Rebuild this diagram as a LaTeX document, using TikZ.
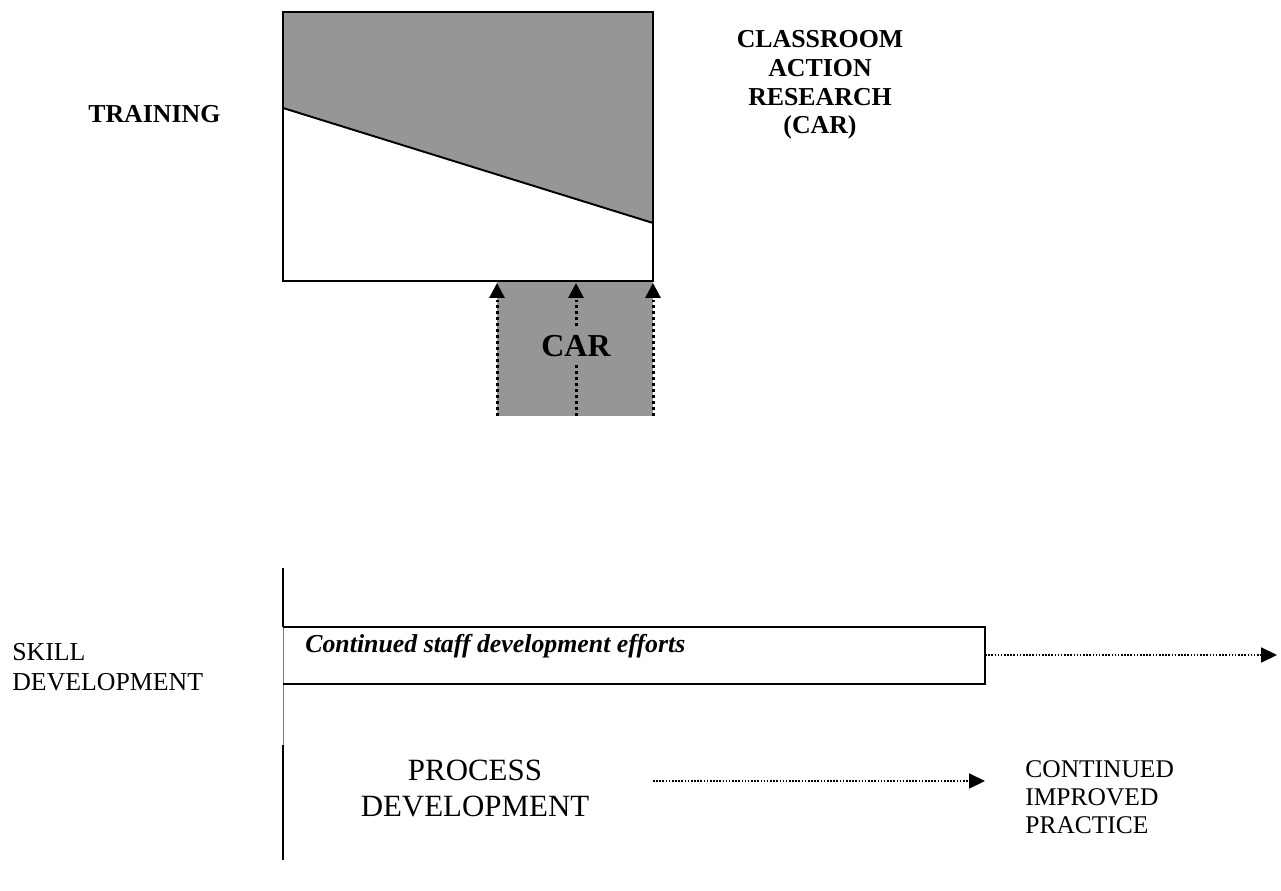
\documentclass[tikz,border=0pt]{standalone}
\usepackage{fontspec}
\setmainfont{Liberation Serif}
\usepackage{tikz}
\usetikzlibrary{arrows.meta}
\definecolor{cargray}{RGB}{150,150,150}

\begin{document}
\begin{tikzpicture}[x=0.02cm,y=-0.02cm,
  rand/.style={line width=1.1pt},
  tynd/.style={line width=0.5pt,gray},
  pil/.style={dash pattern=on 1.7pt off 1.7pt,line width=1.7pt,-{Triangle[length=8.5pt,width=8.5pt]}},
  tyndpil/.style={dash pattern=on 0.9pt off 0.9pt,line width=0.9pt,-{Triangle[length=9pt,width=8.5pt]}},
  tekst/.style={inner sep=0pt,font=\fontsize{14.5pt}{15.9pt}\selectfont},
  fedtekst/.style={inner sep=0pt,font=\fontsize{14.7pt}{16.4pt}\selectfont\bfseries}]
\useasboundingbox (0,0) rectangle (1281,891);
%boks
\fill[cargray] (283,12)--(653,12)--(653,223)--(283,108)--cycle;
\draw[rand] (283,108)--(283,12)--(653,12)--(653,223);
\draw[line width=0.8pt] (283,108)--(283,281)--(653,281)--(653,223);
\draw[rand] (283,108)--(653,223);
\node[fedtekst,anchor=base west] (training) at (88,123) {TRAINING};
\node[fedtekst,anchor=north,align=center] (classroom) at (820,30) {CLASSROOM\\ACTION\\RESEARCH\\(CAR)};
%car
\fill[cargray] (497,282) rectangle (653,416);
\coordinate (a1) at (497,416); \coordinate (b1) at (497,283);
\coordinate (a2) at (576,416); \coordinate (b2) at (576,283);
\coordinate (a3) at (653,416); \coordinate (b3) at (653,283);
\draw[pil] (a1)--(b1);
\draw[pil] (a2)--(b2);
\draw[pil] (a3)--(b3);
\node[fill=cargray,inner xsep=1pt,inner ysep=4pt,font=\fontsize{18.2pt}{20pt}\selectfont\bfseries] (car) at (576,346) {CAR};
%akse
\draw[rand] (283,568)--(283,627);
\draw[tynd] (283,627)--(283,745);
\draw[rand] (283,745)--(283,860);
%staff
\draw[rand] (283,627)--(985,627)--(985,684)--(283,684);
\node[fedtekst,font=\fontsize{14.7pt}{15.9pt}\selectfont\bfseries\itshape,anchor=base west] (staffeff) at (305,652) {Continued staff development efforts};
\coordinate (boxend) at (985,655);
\coordinate (slut1) at (1277,655);
\draw[tyndpil] (boxend)--(slut1);
\node[tekst,font=\fontsize{14.7pt}{17pt}\selectfont,anchor=north west,align=left] (skill) at (12,643) {SKILL\\DEVELOPMENT};
%proces
\node[tekst,font=\fontsize{17.6pt}{20.4pt}\selectfont,anchor=north,align=center] (process) at (475,760) {PROCESS\\DEVELOPMENT};
\node[tekst,anchor=north west,align=left] (practice) at (1025,760) {CONTINUED\\IMPROVED\\PRACTICE};
\coordinate (start2) at (653,781);
\coordinate (slut2) at (985,781);
\draw[tyndpil] (start2)--(slut2);
\end{tikzpicture}
\end{document}
